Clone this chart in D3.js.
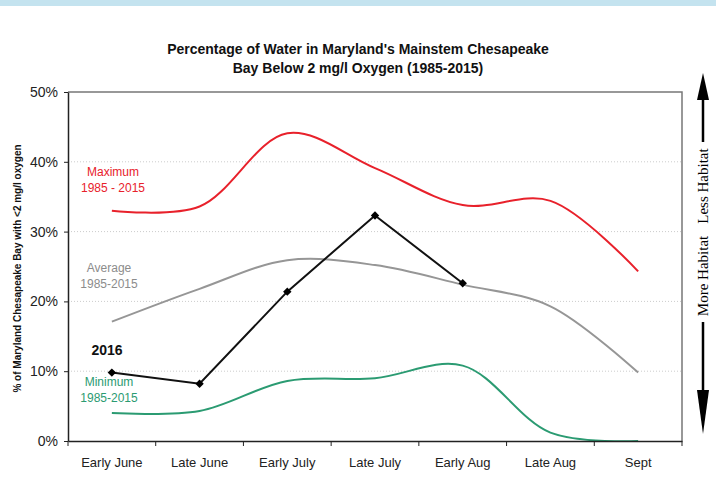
<!DOCTYPE html>
<html>
<head>
<meta charset="utf-8">
<script src="https://cdn.jsdelivr.net/npm/d3@7"></script>
<style>
  body { margin: 0; background: #fff; }
  svg { display: block; font-family: Arial, "Liberation Sans", sans-serif; }
</style>
</head>
<body>
<svg id="chart"></svg>
<script>
const periods = ['Early June', 'Late June', 'Early July', 'Late July', 'Early Aug', 'Late Aug', 'Sept'];
const maximum = [33.0, 33.6, 44.1, 39.1, 33.8, 34.4, 24.3];
const average = [17.1, 21.8, 25.9, 25.2, 22.4, 19.3, 9.8];
const minimum = [4.0, 4.3, 8.6, 9.0, 10.8, 1.2, 0.0];
const year2016 = [9.8, 8.2, 21.4, 32.3, 22.6];
const yTicks = [0, 10, 20, 30, 40, 50];

const width = 716, height = 498;
const margin = { top: 92, right: 34, bottom: 57, left: 68 };

const svg = d3.select('#chart').attr('width', width).attr('height', height);

// light blue strip at the top
svg.append('rect').attr('x', 0).attr('y', 0).attr('width', width).attr('height', 6).attr('fill', '#c4e3ef');

const x = d3.scaleBand()
  .domain(periods)
  .range([margin.left, width - margin.right])
  .padding(0);
const cx = d => x(d) + x.bandwidth() / 2;

const y = d3.scaleLinear()
  .domain([0, 50])
  .range([height - margin.bottom, margin.top]);

svg.append('clipPath').attr('id', 'plot')
  .append('rect')
  .attr('x', margin.left).attr('y', y(50))
  .attr('width', width - margin.left - margin.right).attr('height', y(0) - y(50));

// grid lines
svg.append('g')
  .selectAll('line')
  .data(yTicks.filter(t => t > 0 && t < 50))
  .join('line')
  .attr('x1', margin.left).attr('x2', width - margin.right)
  .attr('y1', d => y(d)).attr('y2', d => y(d))
  .attr('stroke', '#ccc')
  .attr('stroke-dasharray', '1,2');

// frame top and right
svg.append('path')
  .attr('d', `M${margin.left},${y(50)}H${width - margin.right}V${y(0)}`)
  .attr('fill', 'none').attr('stroke', '#777').attr('stroke-width', 1.5);

// smoothed series
const smooth = d3.line()
  .x((d, i) => cx(periods[i]))
  .y(d => y(d))
  .curve(d3.curveCatmullRom);

const series = [
  { values: average, color: '#969696' },
  { values: minimum, color: '#2b9b72' },
  { values: maximum, color: '#e8212b' }
];
svg.append('g')
  .attr('clip-path', 'url(#plot)')
  .selectAll('path')
  .data(series)
  .join('path')
  .attr('d', d => smooth(d.values))
  .attr('fill', 'none')
  .attr('stroke', d => d.color)
  .attr('stroke-width', 2);

// y axis
const yAxis = svg.append('g')
  .attr('transform', `translate(${margin.left},0)`)
  .call(d3.axisLeft(y).tickValues(yTicks).tickFormat(d => d + '%').tickSize(4).tickSizeOuter(0));
yAxis.select('.domain').attr('stroke', '#222').attr('stroke-width', 1.5);
yAxis.selectAll('.tick line').attr('stroke', '#222');
yAxis.selectAll('text').style('font-size', '14px').attr('fill', '#222').attr('x', -10);

// x axis
const xAxis = svg.append('g')
  .attr('transform', `translate(0,${y(0)})`)
  .call(d3.axisBottom(x).tickSize(0).tickSizeOuter(0));
xAxis.select('.domain').attr('stroke', '#222').attr('stroke-width', 1.5);
xAxis.selectAll('text').style('font-size', '13px').attr('fill', '#222').attr('dy', '1.75em');
// ticks at band boundaries
svg.append('g')
  .selectAll('line')
  .data(periods.map(p => x(p)).concat([width - margin.right]))
  .join('line')
  .attr('x1', d => d).attr('x2', d => d)
  .attr('y1', y(0)).attr('y2', y(0) + 5)
  .attr('stroke', '#222');

// 2016 line
const straight = d3.line()
  .x((d, i) => cx(periods[i]))
  .y(d => y(d));
svg.append('path')
  .attr('d', straight(year2016))
  .attr('fill', 'none')
  .attr('stroke', '#111')
  .attr('stroke-width', 2);
svg.append('g')
  .selectAll('path')
  .data(year2016)
  .join('path')
  .attr('transform', (d, i) => `translate(${cx(periods[i])},${y(d)})`)
  .attr('d', d3.symbol(d3.symbolDiamond2, 45))
  .attr('fill', '#000');

// series labels
const labels = [
  { lines: ['Maximum', '1985 - 2015'], color: '#e8212b', x: 113, y: 176, size: 12, weight: 'normal' },
  { lines: ['Average', '1985-2015'], color: '#8c8c8c', x: 109, y: 272, size: 12, weight: 'normal' },
  { lines: ['2016'], color: '#111', x: 107, y: 355, size: 14, weight: 'bold' },
  { lines: ['Minimum', '1985-2015'], color: '#2b9b72', x: 109, y: 386, size: 12, weight: 'normal' }
];
labels.forEach(l => {
  const t = svg.append('text')
    .attr('text-anchor', 'middle')
    .attr('fill', l.color)
    .style('font-size', l.size + 'px')
    .style('font-weight', l.weight);
  l.lines.forEach((s, i) => t.append('tspan').attr('x', l.x).attr('y', l.y + i * 16).text(s));
});

// title
svg.append('text')
  .attr('text-anchor', 'middle')
  .attr('fill', '#111')
  .style('font-size', '14px')
  .style('font-weight', 'bold')
  .selectAll('tspan')
  .data(["Percentage of Water in Maryland's Mainstem Chesapeake", 'Bay Below 2 mg/l Oxygen (1985-2015)'])
  .join('tspan')
  .attr('x', 358)
  .attr('y', (d, i) => 54 + i * 19)
  .text(d => d);

// y axis title
svg.append('text')
  .attr('transform', `translate(21,${(y(0) + y(50)) / 2 + 2}) rotate(-90)`)
  .attr('text-anchor', 'middle')
  .attr('fill', '#111')
  .style('font-size', '10px')
  .style('font-weight', 'bold')
  .text('% of Maryland Chesapeake Bay with <2 mg/l oxygen');

// habitat arrows on the right
const ax = 703;
const side = svg.append('g').style('font-family', '"Liberation Serif", "DejaVu Serif", serif');
side.append('line').attr('x1', ax).attr('x2', ax).attr('y1', 96).attr('y2', 142).attr('stroke', '#000').attr('stroke-width', 2.5);
side.append('path').attr('d', `M${ax},73L${ax - 6},100L${ax + 6},100Z`).attr('fill', '#000');
side.append('line').attr('x1', ax).attr('x2', ax).attr('y1', 322).attr('y2', 395).attr('stroke', '#000').attr('stroke-width', 2.5);
side.append('path').attr('d', `M${ax},434L${ax - 6},390L${ax + 6},390Z`).attr('fill', '#000');
side.append('text')
  .attr('transform', `translate(${ax + 5},186) rotate(-90)`)
  .attr('text-anchor', 'middle')
  .style('font-size', '15px')
  .text('Less Habitat');
side.append('text')
  .attr('transform', `translate(${ax + 5},276) rotate(-90)`)
  .attr('text-anchor', 'middle')
  .style('font-size', '15px')
  .text('More Habitat');
</script>
</body>
</html>
